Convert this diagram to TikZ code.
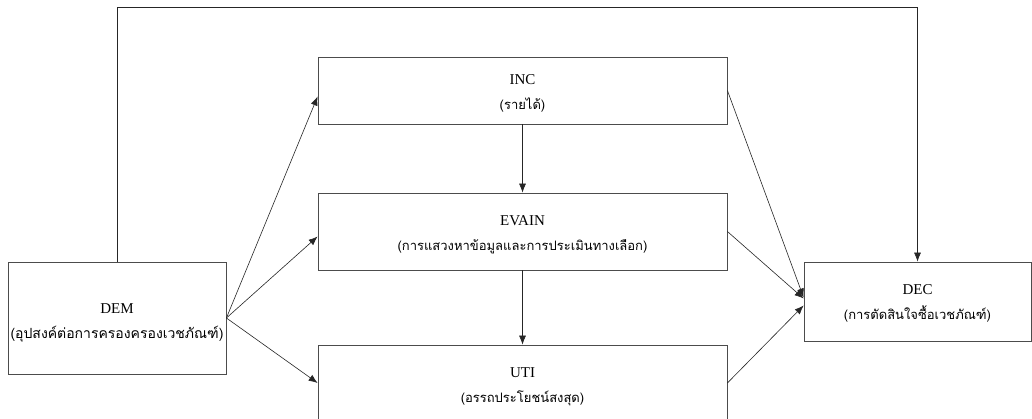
\documentclass[tikz,border=0pt]{standalone}
\usepackage{fontspec}
\setmainfont{Liberation Serif}
\newfontfamily\thai[Script=Thai]{Loma}
\usetikzlibrary{arrows.meta}
\tikzset{
  box/.style={draw=black!70, line width=0.8pt, rectangle, inner sep=0pt},
  txt/.style={align=center, inner sep=0pt, font=\fontsize{15}{25}\selectfont},
  conn/.style={draw=black!85, line width=0.6pt, -{Latex[length=9pt,width=7pt]}}
}
\begin{document}
\begin{tikzpicture}[x=1pt,y=-1pt]
\clip (0,0) rectangle (1032,419);
\fill[white] (0,0) rectangle (1032,419);
\node[box, minimum width=218pt, minimum height=112pt] (DEM) at (117,318) {};
\node[box, minimum width=409pt, minimum height=67pt] (INC) at (522.5,90.5) {};
\node[box, minimum width=409pt, minimum height=77pt] (EVAIN) at (522.5,231.5) {};
\node[box, minimum width=409pt, minimum height=76pt] (UTI) at (522.5,383) {};
\node[box, minimum width=227pt, minimum height=79pt] (DEC) at (917.5,301.5) {};
\node[txt] (DEMt) at ([yshift=-5pt]DEM.center) {DEM\\{\thai\fontsize{14}{25}\selectfont (อุปสงค์ต่อการครองครองเวชภัณฑ์)}};
\node[txt] (INCt) at ([yshift=-3pt]INC.center) {INC\\{\thai\fontsize{13}{25}\selectfont (รายได้)}};
\node[txt] (EVAINt) at ([yshift=-3pt]EVAIN.center) {EVAIN\\{\thai\fontsize{13}{25}\selectfont (การแสวงหาข้อมูลและการประเมินทางเลือก)}};
\node[txt] (UTIt) at ([yshift=-4pt]UTI.center) {UTI\\{\thai\fontsize{13}{25}\selectfont (อรรถประโยชน์สงสุด)}};
\node[txt] (DECt) at ([yshift=-2pt]DEC.center) {DEC\\{\thai\fontsize{13}{25}\selectfont (การตัดสินใจซื้อเวชภัณฑ์)}};
\coordinate (top) at (117,7);
\draw[conn] (DEM.north) -- (top) -| (DEC.north);
\draw[conn] (DEM.east) -- ([yshift=-6pt]INC.west);
\draw[conn] (DEM.east) -- ([yshift=-5pt]EVAIN.west);
\draw[conn] (DEM.east) -- (UTI.west);
\draw[conn] (INC.south) -- (EVAIN.north);
\draw[conn] (EVAIN.south) -- (UTI.north);
\draw[conn] (INC.east) -- ([yshift=4pt]DEC.west);
\draw[conn] (EVAIN.east) -- ([yshift=3pt]DEC.west);
\draw[conn] (UTI.east) -- ([yshift=-4pt]DEC.west);
\end{tikzpicture}
\end{document}
